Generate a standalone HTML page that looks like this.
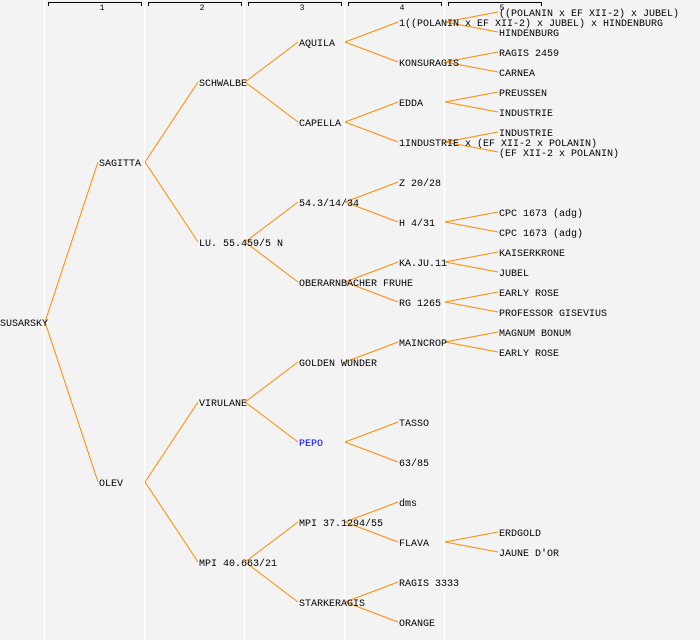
<!DOCTYPE html>
<html><head><meta charset="utf-8"><style>
html,body{margin:0;padding:0;background:#f3f3f3;}
svg{display:block;}
text{font-family:"Liberation Mono",monospace;font-size:10px;fill:#000;}
.h{font-size:8px;}
</style></head><body>
<svg width="700" height="640" viewBox="0 0 700 640">
<rect width="700" height="640" fill="#f3f3f3"/>
<g stroke="#fff" stroke-width="1.5">
<line x1="44.5" y1="0" x2="44.5" y2="640"/><line x1="144.5" y1="0" x2="144.5" y2="640"/>
<line x1="244.5" y1="0" x2="244.5" y2="640"/><line x1="344.5" y1="0" x2="344.5" y2="640"/>
<line x1="444.5" y1="0" x2="444.5" y2="640"/>
</g>
<g stroke="#000" stroke-width="1" fill="none">
<path d="M48.5 6V2.5H141.5V6"/><path d="M148.5 6V2.5H241.5V6"/><path d="M248.5 6V2.5H341.5V6"/><path d="M348.5 6V2.5H441.5V6"/><path d="M448.5 6V2.5H541.5V6"/>
</g>
<g class="h" text-anchor="middle">
<text class="h" x="102" y="10">1</text><text class="h" x="202" y="10">2</text><text class="h" x="302" y="10">3</text><text class="h" x="402" y="10">4</text><text class="h" x="502" y="10">5</text>
</g>
<g stroke="#ff8c00" stroke-width="1" fill="none">
<path d="M45 322L98 162M45 322L98 482"/>
<path d="M145 162L198 82M145 162L198 242M145 482L198 402M145 482L198 562"/>
<path d="M245 82L298 42M245 82L298 122M245 242L298 202M245 242L298 282M245 402L298 362M245 402L298 442M245 562L298 522M245 562L298 602"/>
<path d="M345 42L398 22M345 42L398 62M345 122L398 102M345 122L398 142M345 202L398 182M345 202L398 222M345 282L398 262M345 282L398 302M345 362L398 342M345 442L398 422M345 442L398 462M345 522L398 502M345 522L398 542M345 602L398 582M345 602L398 622"/>
<path d="M445 22L498 12M445 22L498 32M445 62L498 52M445 62L498 72M445 102L498 92M445 102L498 112M445 142L498 132M445 142L498 152M445 222L498 212M445 222L498 232M445 262L498 252M445 262L498 272M445 302L498 292M445 302L498 312M445 342L498 332M445 342L498 352M445 542L498 532M445 542L498 552"/>
</g>
<g>
<text x="0" y="326">SUSARSKY</text>
<text x="99" y="166">SAGITTA</text><text x="99" y="486">OLEV</text>
<text x="199" y="86">SCHWALBE</text><text x="199" y="246">LU. 55.459/5 N</text><text x="199" y="406">VIRULANE</text><text x="199" y="566">MPI 40.663/21</text>
<text x="299" y="46">AQUILA</text><text x="299" y="126">CAPELLA</text><text x="299" y="206">54.3/14/34</text><text x="299" y="286">OBERARNBACHER FRUHE</text><text x="299" y="366">GOLDEN WUNDER</text><text x="299" y="446" style="fill:#0000ff">PEPO</text><text x="299" y="526">MPI 37.1294/55</text><text x="299" y="606">STARKERAGIS</text>
<text x="399" y="26">1((POLANIN x EF XII-2) x JUBEL) x HINDENBURG</text><text x="399" y="66">KONSURAGIS</text><text x="399" y="106">EDDA</text><text x="399" y="146">1INDUSTRIE x (EF XII-2 x POLANIN)</text><text x="399" y="186">Z 20/28</text><text x="399" y="226">H 4/31</text><text x="399" y="266">KA.JU.11</text><text x="399" y="306">RG 1265</text><text x="399" y="346">MAINCROP</text><text x="399" y="426">TASSO</text><text x="399" y="466">63/85</text><text x="399" y="506">dms</text><text x="399" y="546">FLAVA</text><text x="399" y="586">RAGIS 3333</text><text x="399" y="626">ORANGE</text>
<text x="499" y="16">((POLANIN x EF XII-2) x JUBEL)</text><text x="499" y="36">HINDENBURG</text><text x="499" y="56">RAGIS 2459</text><text x="499" y="76">CARNEA</text><text x="499" y="96">PREUSSEN</text><text x="499" y="116">INDUSTRIE</text><text x="499" y="136">INDUSTRIE</text><text x="499" y="156">(EF XII-2 x POLANIN)</text><text x="499" y="216">CPC 1673 (adg)</text><text x="499" y="236">CPC 1673 (adg)</text><text x="499" y="256">KAISERKRONE</text><text x="499" y="276">JUBEL</text><text x="499" y="296">EARLY ROSE</text><text x="499" y="316">PROFESSOR GISEVIUS</text><text x="499" y="336">MAGNUM BONUM</text><text x="499" y="356">EARLY ROSE</text><text x="499" y="536">ERDGOLD</text><text x="499" y="556">JAUNE D'OR</text>
</g>
</svg>
</body></html>
